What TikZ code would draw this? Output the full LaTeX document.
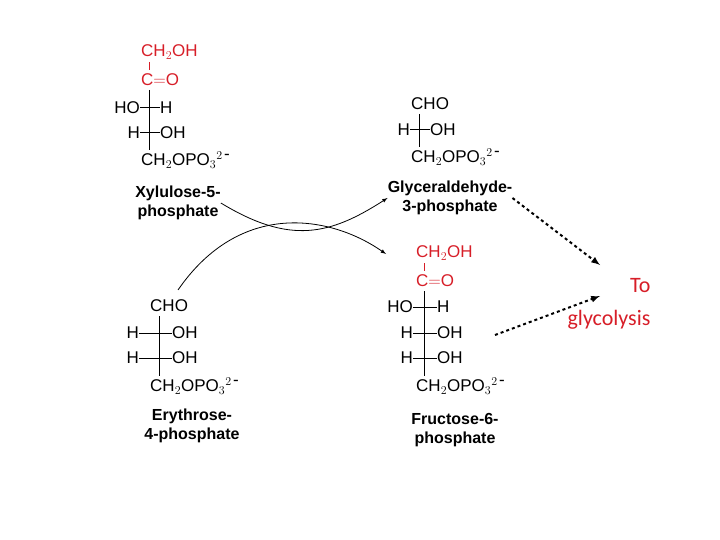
\documentclass[tikz,border=0pt]{standalone}
\usepackage{fontspec}
\setmainfont{Liberation Sans}
\newfontfamily\calib{Carlito}
\definecolor{ketred}{RGB}{215,30,40}
\begin{document}
\begin{tikzpicture}[x=1pt,y=-1pt, grp/.style={inner sep=0pt, font=\fontsize{17}{17}\selectfont},
  red grp/.style={grp, text=ketred}, lab/.style={inner sep=0pt, align=center, font=\fontsize{16}{19}\selectfont\bfseries},
  bond/.style={line width=1pt}]
\useasboundingbox (0,0) rectangle (720,540);

% xylulose-5-phosphate
\node [red grp, anchor=west] (x1) at (141,52) {CH$_2$OH};
\node [red grp, anchor=west] (x2) at (141,80) {C$=$O};
\node [grp, anchor=east] (x3l) at (140,108) {HO};
\node [grp, anchor=west] (x3r) at (160,108) {H};
\node [grp, anchor=east] (x4l) at (140,133) {H};
\node [grp, anchor=west] (x4r) at (160,133) {OH};
\node [grp, anchor=west] (x5) at (141,160) {CH$_2$OPO$_3$$^{2\,\textrm{-}}$};
\node [lab] (xlab) at (178,203) {Xylulose-5-\\phosphate};
\draw [bond, ketred] (149,62) -- (149,70);
\draw [bond] (149,90) -- (149,150);
\draw [bond] (x3l) -- (x3r);
\draw [bond] (x4l) -- (x4r);

% glyceraldehyde-3-phosphate
\node [grp, anchor=west] (g1) at (411,104) {CHO};
\node [grp, anchor=east] (g2l) at (410,130) {H};
\node [grp, anchor=west] (g2r) at (430,130) {OH};
\node [grp, anchor=west] (g3) at (411,157) {CH$_2$OPO$_3$$^{2\,\textrm{-}}$};
\node [lab] (glab) at (450,198) {Glyceraldehyde-\\3-phosphate};
\draw [bond] (419,114) -- (419,147);
\draw [bond] (g2l) -- (g2r);

% erythrose-4-phosphate
\node [grp, anchor=west] (e1) at (150,306) {CHO};
\node [grp, anchor=east] (e2l) at (139,333) {H};
\node [grp, anchor=west] (e2r) at (172,333) {OH};
\node [grp, anchor=east] (e3l) at (139,358) {H};
\node [grp, anchor=west] (e3r) at (172,358) {OH};
\node [grp, anchor=west] (e4) at (150,386) {CH$_2$OPO$_3$$^{2\,\textrm{-}}$};
\node [lab] (elab) at (192,426) {Erythrose-\\4-phosphate};
\draw [bond] (159,316) -- (159,376);
\draw [bond] (e2l) -- (e2r);
\draw [bond] (e3l) -- (e3r);

% fructose-6-phosphate
\node [red grp, anchor=west] (f1) at (416,253) {CH$_2$OH};
\node [red grp, anchor=west] (f2) at (416,281) {C$=$O};
\node [grp, anchor=east] (f3l) at (413,307) {HO};
\node [grp, anchor=west] (f3r) at (437,307) {H};
\node [grp, anchor=east] (f4l) at (413,333) {H};
\node [grp, anchor=west] (f4r) at (437,333) {OH};
\node [grp, anchor=east] (f5l) at (413,358) {H};
\node [grp, anchor=west] (f5r) at (437,358) {OH};
\node [grp, anchor=west] (f6) at (416,386) {CH$_2$OPO$_3$$^{2\,\textrm{-}}$};
\node [lab] (flab) at (455,430) {Fructose-6-\\phosphate};
\draw [bond, ketred] (424,263) -- (424,271);
\draw [bond] (424,291) -- (424,376);
\draw [bond] (f3l) -- (f3r);
\draw [bond] (f4l) -- (f4r);
\draw [bond] (f5l) -- (f5r);

\node [text=ketred, font=\calib\fontsize{22}{26}\selectfont, anchor=east] (to) at (654,286) {To};
\node [text=ketred, font=\calib\fontsize{22}{26}\selectfont, anchor=east] (gly) at (654,320) {glycolysis};
\coordinate (t1) at (600,265);
\coordinate (t2) at (600,296);

\draw [-latex, thick] (xlab.east) .. controls (290,245) and (330,235) .. (glab.west);
\draw [-latex, thick] (178,290) .. controls (240,200) and (330,215) .. (386,254);
\draw [-latex, line width=2pt, dashed] (glab.east) -- (t1);
\draw [-latex, line width=2pt, dashed] (495,335) -- (t2);
\end{tikzpicture}
\end{document}
